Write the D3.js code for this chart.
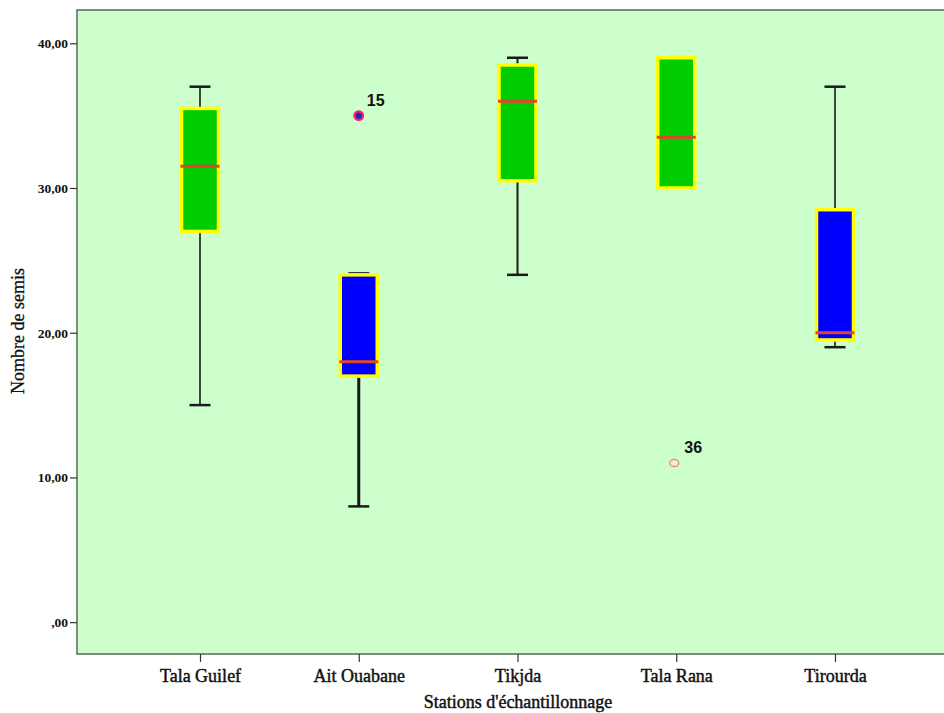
<!DOCTYPE html>
<html>
<head>
<meta charset="utf-8">
<script src="https://cdn.jsdelivr.net/npm/d3@7"></script>
<style>
  html, body { margin: 0; padding: 0; background: #ffffff; }
  svg { display: block; }
</style>
</head>
<body>
<svg id="chart" width="944" height="713"></svg>
<script>
// Stations and box-plot summaries (number of seedlings)
const stations = ["Tala Guilef", "Ait Ouabane", "Tikjda", "Tala Rana", "Tirourda"];
const whiskerLow  = [15, 8, 24, 30, 19];
const q1          = [27, 17, 30.5, 30, 19.5];
const median      = [31.5, 18, 36, 33.5, 20];
const q3          = [35.5, 24, 38.5, 39, 28.5];
const whiskerHigh = [37, 24.1, 39, 39, 37];
const boxColors   = ["#00cc00", "#0000ff", "#00cc00", "#00cc00", "#0000ff"];
const whiskerWidths = [1.6, 3, 2, 1.6, 1.6];

// Outlying cases with their case numbers
const outlierStation = ["Ait Ouabane", "Tala Rana"];
const outlierValue   = [35, 11];
const outlierCase    = ["15", "36"];

const yTicks = [0, 10, 20, 30, 40];
const yTickLabels = [",00", "10,00", "20,00", "30,00", "40,00"];

const serif = "'Liberation Serif', 'Times New Roman', serif";

const svg = d3.select("#chart");
const plot = { left: 77, top: 10, right: 950, bottom: 654 };

const x = d3.scalePoint().domain(stations).range([200, 835]);
const y = d3.scaleLinear().domain([-2.2, 42.3]).range([plot.bottom, plot.top]);

// plot background
svg.append("rect")
  .attr("x", plot.left).attr("y", plot.top)
  .attr("width", plot.right - plot.left).attr("height", plot.bottom - plot.top)
  .attr("fill", "#ccffcc")
  .attr("stroke", "#5a6a5a").attr("stroke-width", 1.5);

// y axis
const yAxis = d3.axisLeft(y).tickValues(yTicks)
  .tickFormat((d, i) => yTickLabels[i]).tickSize(7).tickPadding(2);
const gy = svg.append("g").attr("transform", `translate(${plot.left},0)`).call(yAxis);
gy.select(".domain").remove();
gy.selectAll(".tick line").attr("stroke", "#333").attr("stroke-width", 1.2);
gy.selectAll(".tick text")
  .attr("font-family", serif)
  .attr("font-weight", "bold").attr("font-size", 13.5).attr("fill", "#111");

// x axis
const xAxis = d3.axisBottom(x).tickSize(8).tickPadding(7);
const gx = svg.append("g").attr("transform", `translate(0,${plot.bottom})`).call(xAxis);
gx.select(".domain").remove();
gx.selectAll(".tick line").attr("stroke", "#333").attr("stroke-width", 1.2);
gx.selectAll(".tick text")
  .attr("font-family", serif)
  .attr("font-size", 18).attr("fill", "#111")
  .attr("stroke", "#111").attr("stroke-width", 0.45);

// axis titles
svg.append("text")
  .attr("x", 518).attr("y", 708)
  .attr("text-anchor", "middle")
  .attr("font-family", serif)
  .attr("font-size", 18).attr("fill", "#111")
  .attr("stroke", "#111").attr("stroke-width", 0.45)
  .text("Stations d'échantillonnage");

svg.append("text")
  .attr("transform", `translate(24,331) rotate(-90)`)
  .attr("text-anchor", "middle")
  .attr("font-family", serif)
  .attr("font-size", 18).attr("fill", "#111")
  .attr("stroke", "#111").attr("stroke-width", 0.3)
  .text("Nombre de semis");

// boxes
const boxW = 37, capW = 21;
const data = stations.map((s, i) => ({
  s, lo: whiskerLow[i], q1: q1[i], med: median[i], q3: q3[i], hi: whiskerHigh[i],
  color: boxColors[i], ww: whiskerWidths[i]
}));

const g = svg.append("g");
data.forEach(d => {
  const cx = x(d.s);
  // whiskers
  g.append("line").attr("x1", cx).attr("x2", cx).attr("y1", y(d.hi)).attr("y2", y(d.q3))
    .attr("stroke", "#1a1a1a").attr("stroke-width", d.ww);
  g.append("line").attr("x1", cx).attr("x2", cx).attr("y1", y(d.q1)).attr("y2", y(d.lo))
    .attr("stroke", "#1a1a1a").attr("stroke-width", d.ww);
  if (d.hi > d.q3 + 0.01) {
    g.append("line").attr("x1", cx - capW / 2).attr("x2", cx + capW / 2)
      .attr("y1", y(d.hi)).attr("y2", y(d.hi))
      .attr("stroke", "#1a1a1a").attr("stroke-width", 2.5);
  }
  if (d.lo < d.q1 - 0.01) {
    g.append("line").attr("x1", cx - capW / 2).attr("x2", cx + capW / 2)
      .attr("y1", y(d.lo)).attr("y2", y(d.lo))
      .attr("stroke", "#1a1a1a").attr("stroke-width", 2.5);
  }
  // box
  g.append("rect")
    .attr("x", cx - boxW / 2).attr("y", y(d.q3))
    .attr("width", boxW).attr("height", y(d.q1) - y(d.q3))
    .attr("fill", d.color).attr("stroke", "#ffff00").attr("stroke-width", 3.5);
  // median
  g.append("line").attr("x1", cx - boxW / 2 - 1).attr("x2", cx + boxW / 2 + 1)
    .attr("y1", y(d.med)).attr("y2", y(d.med))
    .attr("stroke", "#e0442a").attr("stroke-width", 3);
});

// outliers
outlierStation.forEach((s, i) => {
  const cx = x(s), cy = y(outlierValue[i]);
  if (i === 0) {
    g.append("circle").attr("cx", cx).attr("cy", cy).attr("r", 4.2)
      .attr("fill", "#2020c0").attr("stroke", "#f0206a").attr("stroke-width", 2.4);
  } else {
    g.append("ellipse").attr("cx", cx - 2).attr("cy", cy).attr("rx", 4.5).attr("ry", 3.6)
      .attr("fill", "#fde8d8").attr("stroke", "#e0906a").attr("stroke-width", 1.4);
  }
  g.append("text")
    .attr("x", cx + 8).attr("y", cy - 10)
    .attr("font-family", "'Liberation Sans', Arial, sans-serif")
    .attr("font-weight", "bold").attr("font-size", 16).attr("fill", "#111")
    .text(outlierCase[i]);
});
</script>
</body>
</html>
